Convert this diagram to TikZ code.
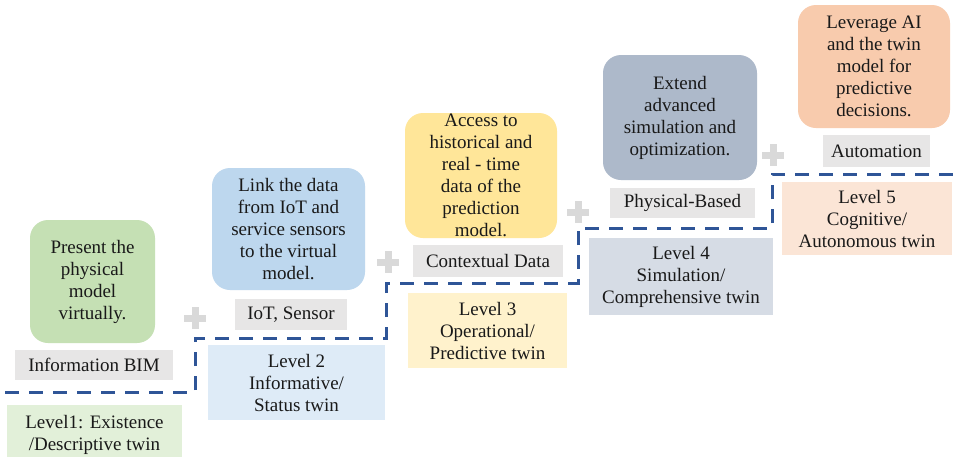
\documentclass[tikz,border=0pt]{standalone}
\usepackage{fontspec}
\setmainfont{Liberation Serif}
\definecolor{gfill}{HTML}{C5E0B4}
\definecolor{bfill}{HTML}{BDD7EE}
\definecolor{yfill}{HTML}{FFE699}
\definecolor{sfill}{HTML}{ADB9CA}
\definecolor{ofill}{HTML}{F8CBAD}
\definecolor{glight}{HTML}{E2F0D9}
\definecolor{blight}{HTML}{DEEBF7}
\definecolor{ylight}{HTML}{FFF2CC}
\definecolor{slight}{HTML}{D6DCE5}
\definecolor{olight}{HTML}{FBE5D6}
\definecolor{tagfill}{HTML}{E7E6E6}
\definecolor{stairblue}{HTML}{2F5597}
\definecolor{plusgrey}{HTML}{D9D9D9}
\tikzset{
  txt/.style={font=\fontsize{19}{22}\selectfont, text=black!90, align=center, inner sep=0pt},
  idea/.style={txt, rounded corners=18pt, minimum width=#1},
  tag/.style={txt, fill=tagfill},
  levelbox/.style={txt},
  stair/.style={draw=stairblue, line width=3pt, dash pattern=on 14pt off 10pt},
  plusline/.style={draw=plusgrey, line width=7pt},
  plussign/.pic={\path[plusline] (-11,0) -- (11,0) (0,-11) -- (0,11);}
}
\begin{document}
\begin{tikzpicture}[x=1pt, y=-1pt]
\clip (0,0) rectangle (954,456);
\fill[white] (0,0) rectangle (954,456);

% ideas for each level
\node[idea=125pt, fill=gfill, minimum height=123pt] (i1) at (92.5,281.5) {Present the\\physical\\model\\virtually.};
\node[idea=153pt, fill=bfill, minimum height=122pt] (i2) at (288.5,229) {Link the data\\from IoT and\\service sensors\\to the virtual\\model.};
\node[idea=152pt, fill=yfill, minimum height=125pt] (i3) at (481,175.5) {Access to\\historical and\\real - time\\data of the\\prediction\\model.};
\node[idea=154pt, fill=sfill, minimum height=125pt] (i4) at (680,117.5) {Extend\\advanced\\simulation and\\optimization.};
\node[idea=152pt, fill=ofill, minimum height=123pt] (i5) at (874,66.5) {Leverage AI\\and the twin\\model for\\predictive\\decisions.};

% grey technology tags
\node[tag, minimum width=158pt, minimum height=30pt] (t1) at (94,365) {Information BIM};
\node[tag, minimum width=112pt, minimum height=31pt] (t2) at (291,314.5) {IoT, Sensor};
\node[tag, minimum width=150pt, minimum height=32pt] (t3) at (488,261) {Contextual Data};
\node[tag, minimum width=145pt, minimum height=30pt] (t4) at (682.5,203) {Physical-Based};
\node[tag, minimum width=107pt, minimum height=32pt] (t5) at (876.5,151) {Automation};

% level descriptions
\node[levelbox, fill=glight, minimum width=175pt, minimum height=60pt] (l1) at (94.5,435) {Level1: Existence\\/Descriptive twin};
\node[levelbox, fill=blight, minimum width=177pt, minimum height=75pt] (l2) at (296.5,382.5) {Level 2\\Informative/\\Status twin};
\node[levelbox, fill=ylight, minimum width=159pt, minimum height=75pt] (l3) at (487.5,330.5) {Level 3\\Operational/\\Predictive twin};
\node[levelbox, fill=slight, minimum width=184pt, minimum height=77pt] (l4) at (681,276.5) {Level 4\\Simulation/\\Comprehensive twin};
\node[levelbox, fill=olight, minimum width=170pt, minimum height=73pt] (l5) at (867,218.5) {Level 5\\Cognitive/\\Autonomous twin};

% plus signs between levels
\pic at (195,318) {plussign};
\pic at (388,262) {plussign};
\pic at (578,212) {plussign};
\pic at (773,155) {plussign};

% dashed staircase
\coordinate (s0) at (5,392);
\coordinate (s1) at (195,392);
\coordinate (s2) at (195,338);
\coordinate (s3) at (386,338);
\coordinate (s4) at (386,283);
\coordinate (s5) at (578,283);
\coordinate (s6) at (578,228);
\coordinate (s7) at (772,228);
\coordinate (s8) at (772,174);
\coordinate (s9) at (954,174);
\draw[stair] (s0) -- (s1) -- (s2) -- (s3) -- (s4) -- (s5) -- (s6) -- (s7) -- (s8) -- (s9);
\end{tikzpicture}
\end{document}
